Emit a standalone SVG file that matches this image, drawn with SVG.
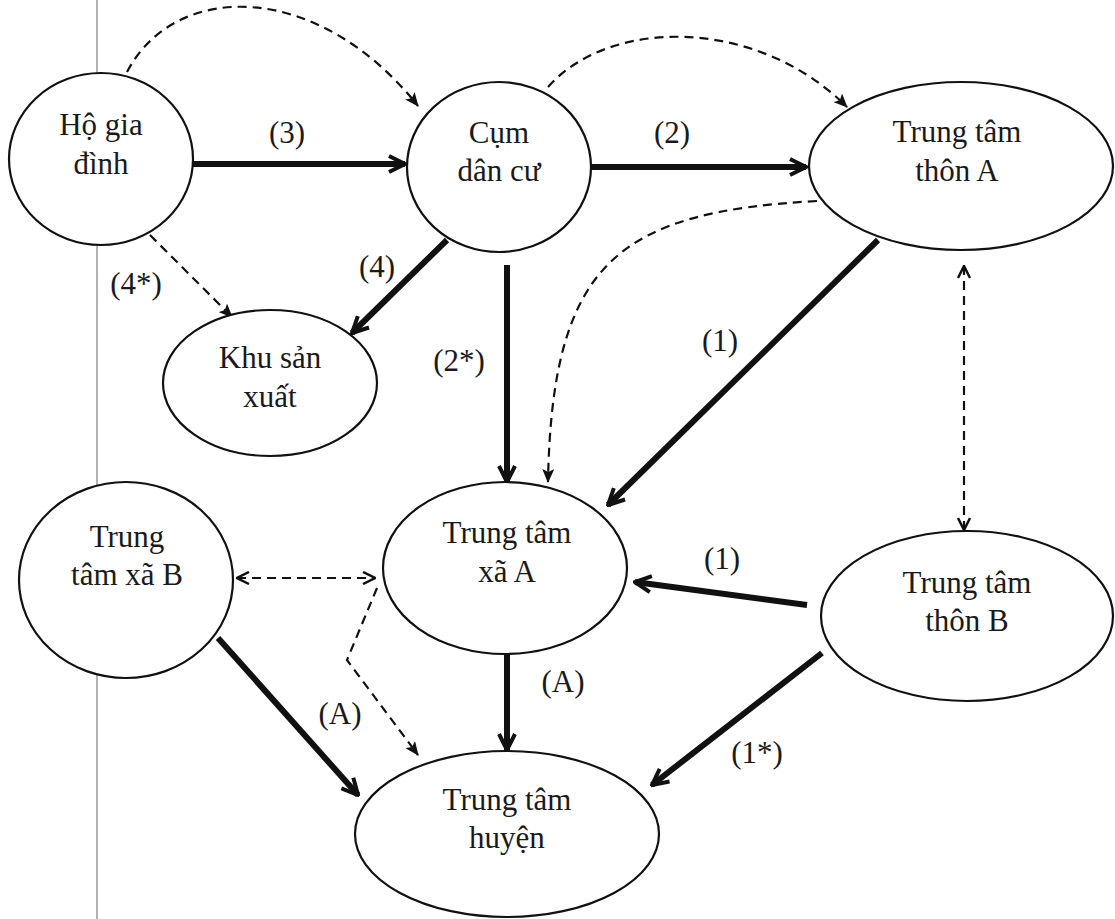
<svg xmlns="http://www.w3.org/2000/svg" width="1115" height="919" viewBox="0 0 1115 919">
<style>
.node{fill:#fff;stroke:#111;stroke-width:2.2}
.t{font-family:"Liberation Serif","Times New Roman",serif;font-size:31px;fill:#1a1a1a;text-anchor:middle}
.thick{stroke:#111;stroke-width:6;fill:none;marker-end:url(#ah)}
.dash{stroke:#111;stroke-width:2.2;fill:none;stroke-dasharray:9 6}
</style>
<defs>
<marker id="ah" viewBox="0 0 20 20" refX="18" refY="10" markerWidth="20" markerHeight="20" markerUnits="userSpaceOnUse" orient="auto">
<path d="M2,2 L18,10 L2,18" fill="none" stroke="#111" stroke-width="4"/>
</marker>
<marker id="dh" viewBox="0 0 14 12" refX="13" refY="6" markerWidth="14" markerHeight="12" markerUnits="userSpaceOnUse" orient="auto">
<path d="M0,0 L14,6 L0,12 L3,6 Z" fill="#111"/>
</marker>
<marker id="dho" viewBox="0 0 14 14" refX="13" refY="7" markerWidth="14" markerHeight="14" markerUnits="userSpaceOnUse" orient="auto-start-reverse">
<path d="M1,1 L13,7 L1,13" fill="none" stroke="#111" stroke-width="2.5"/>
</marker>
</defs>
<rect width="1115" height="919" fill="#fff"/>
<line x1="97" y1="0" x2="97" y2="919" stroke="#8a8a8a" stroke-width="1.3"/>

<g id="connectors">
<path class="thick" d="M193,164 L405,164"/>
<path class="thick" d="M592,167 L806,167"/>
<path class="thick" d="M447,240 L352,333"/>
<path class="thick" d="M507,265 L507,482"/>
<path class="thick" d="M878,240 L608,505"/>
<path class="thick" d="M807,605 L635,582"/>
<path class="thick" d="M507,654 L507,750"/>
<path class="thick" d="M218,638 L358,795"/>
<path class="thick" d="M822,653 L652,785"/>

<path class="dash" d="M127,72 C175,-20 318,-20 418,106" marker-end="url(#dh)"/>
<path class="dash" d="M548,87 C610,17 757,17 847,107" marker-end="url(#dh)"/>
<path class="dash" d="M817,201 C620,212 552,260 548,482" marker-end="url(#dh)"/>
<path class="dash" d="M150,235 L232,317" marker-end="url(#dh)"/>
<path class="dash" d="M377,588 L347,660 L418,755" marker-end="url(#dh)"/>
<path class="dash" d="M237,578 L375,578" marker-start="url(#dho)" marker-end="url(#dho)"/>
<path class="dash" d="M964,266 L964,530" marker-start="url(#dho)" marker-end="url(#dho)"/>

<text class="t" x="287" y="143">(3)</text>
<text class="t" x="672" y="143">(2)</text>
<text class="t" x="377" y="277">(4)</text>
<text class="t" x="136" y="294">(4*)</text>
<text class="t" x="459" y="371">(2*)</text>
<text class="t" x="720" y="351">(1)</text>
<text class="t" x="722" y="569">(1)</text>
<text class="t" x="563" y="692">(A)</text>
<text class="t" x="340" y="724">(A)</text>
<text class="t" x="757" y="763">(1*)</text>
</g>

<g id="ho-gia-dinh">
<ellipse class="node" cx="101" cy="159" rx="92" ry="86"/>
<text class="t" x="101" y="135">Hộ gia</text>
<text class="t" x="101" y="174">đình</text>
</g>
<g id="cum-dan-cu">
<ellipse class="node" cx="499" cy="167" rx="92" ry="85"/>
<text class="t" x="499" y="143">Cụm</text>
<text class="t" x="499" y="181">dân cư</text>
</g>
<g id="trung-tam-thon-a">
<ellipse class="node" cx="961" cy="166" rx="152" ry="84"/>
<text class="t" x="957" y="142">Trung tâm</text>
<text class="t" x="957" y="181">thôn A</text>
</g>
<g id="khu-san-xuat">
<ellipse class="node" cx="270" cy="383" rx="107" ry="73"/>
<text class="t" x="270" y="368">Khu sản</text>
<text class="t" x="270" y="407">xuất</text>
</g>
<g id="trung-tam-xa-a">
<ellipse class="node" cx="505" cy="568" rx="122" ry="86"/>
<text class="t" x="507" y="543">Trung tâm</text>
<text class="t" x="507" y="582">xã A</text>
</g>
<g id="trung-tam-xa-b">
<ellipse class="node" cx="126" cy="580" rx="107" ry="98"/>
<text class="t" x="127" y="547">Trung</text>
<text class="t" x="127" y="585">tâm xã B</text>
</g>
<g id="trung-tam-thon-b">
<ellipse class="node" cx="967" cy="616" rx="146" ry="85"/>
<text class="t" x="967" y="593">Trung tâm</text>
<text class="t" x="967" y="631">thôn B</text>
</g>
<g id="trung-tam-huyen">
<ellipse class="node" cx="507" cy="834" rx="152" ry="83"/>
<text class="t" x="507" y="810">Trung tâm</text>
<text class="t" x="507" y="848">huyện</text>
</g>
</svg>
